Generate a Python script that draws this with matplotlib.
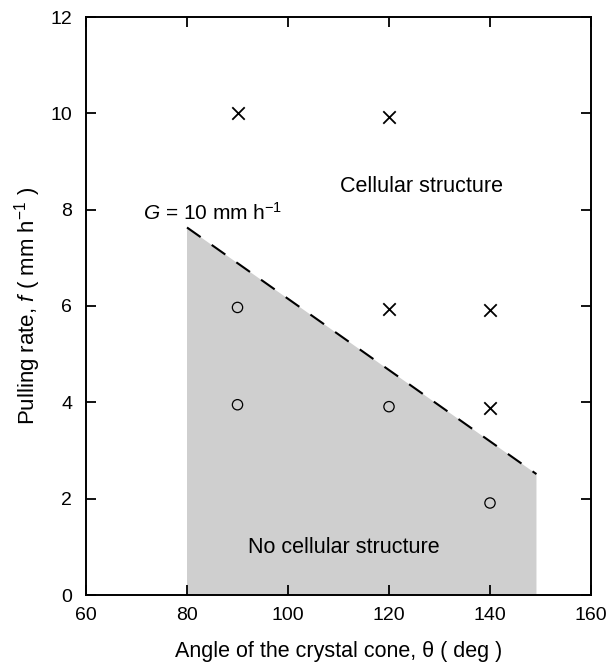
import matplotlib
matplotlib.use('Agg')
import matplotlib.pyplot as plt

plt.rcParams['font.family'] = ['Liberation Sans', 'DejaVu Sans']
plt.rcParams['mathtext.fontset'] = 'custom'
plt.rcParams['mathtext.it'] = 'Liberation Sans:italic'
plt.rcParams['mathtext.rm'] = 'Liberation Sans'

# crosses = cellular structure, circles = no cellular structure
cell_x = [90, 120, 120, 140, 140]
cell_y = [10.0, 9.93, 5.93, 5.92, 3.88]
nocell_x = [90, 90, 120, 140]
nocell_y = [5.97, 3.95, 3.91, 1.91]

# G = 10 mm/h boundary line
bound_x = [80, 149.2]
bound_y = [7.63, 2.51]

fig = plt.figure(figsize=(6.11, 6.66), dpi=100)
ax = fig.add_axes([86 / 611, 71 / 666, 505 / 611, 578 / 666])

ax.fill_between(bound_x, 0, bound_y, facecolor='#cfcfcf', edgecolor='none', zorder=1)
ax.plot(bound_x, bound_y, color='black', lw=1.5, dashes=(8, 6.5), zorder=2)

ax.scatter(cell_x, cell_y, marker='x', s=80, color='black', linewidths=1.3, zorder=3)
ax.scatter(nocell_x, nocell_y, marker='o', s=55, facecolors='none',
           edgecolors='black', linewidths=0.9, zorder=3)

ax.text(71.3, 7.79, r'$G$ = 10 mm h$^{-1}$', fontsize=15)
ax.text(126.5, 8.48, 'Cellular structure', fontsize=15.5, ha='center', va='center')
ax.text(111, 0.98, 'No cellular structure', fontsize=15.5, ha='center', va='center')

ax.set_xlim(60, 160)
ax.set_ylim(0, 12)
ax.set_xticks([60, 80, 100, 120, 140, 160])
ax.set_yticks([0, 2, 4, 6, 8, 10, 12])
ax.tick_params(direction='in', top=True, right=True, length=7.5, width=1.3, labelsize=14)
ax.tick_params(axis='x', pad=9)
ax.tick_params(axis='y', pad=10)
for s in ax.spines.values():
    s.set_linewidth(1.4)

ax.set_xlabel('Angle of the crystal cone, \u03b8 ( deg )', fontsize=15.5, labelpad=12)
ax.set_ylabel(r'Pulling rate, $f$ ( mm h$^{-1}$ )', fontsize=16, labelpad=5)

fig.savefig('out.png', dpi=100)
